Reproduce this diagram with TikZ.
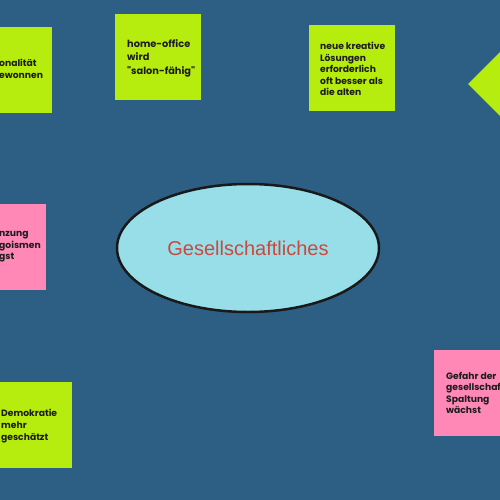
\documentclass[tikz,border=0pt]{standalone}
\usepackage{fontspec}
\setmainfont{Liberation Sans}
\newfontfamily\notefont{Poppins}
\usetikzlibrary{shapes.geometric}

\definecolor{boardblue}{RGB}{45,94,132}
\definecolor{notegreen}{RGB}{182,236,14}
\definecolor{notepink}{RGB}{255,136,182}
\definecolor{ellcyan}{RGB}{151,222,232}
\definecolor{titlered}{RGB}{204,72,60}
\definecolor{inkdark}{RGB}{28,28,28}

\begin{document}
\begin{tikzpicture}[
  x=1pt, y=-1pt,
  note/.style={rectangle, minimum width=86pt, minimum height=86pt, inner sep=0pt},
  txt/.style={align=left, text=inkdark, inner sep=0pt, font=\notefont\bfseries\fontsize{9.2}{11.6}\selectfont}
]
  \useasboundingbox (0,0) rectangle (500,500);
  \clip (0,0) rectangle (500,500);
  \fill[boardblue] (0,0) rectangle (500,500);

  % green notes
  \node[note, fill=notegreen, anchor=north east] (regio) at (52,27) {};
  \node[txt, anchor=west] (regiotxt) at (-1,69) {onalität\\ewonnen};
  \node[note, fill=notegreen, anchor=north west] (home) at (115,14) {};
  \node[txt, anchor=west, font=\notefont\bfseries\fontsize{9.8}{13.5}\selectfont] (hometxt) at (127,58)
      {home-office\\wird\\"salon-fähig"};
  \node[note, fill=notegreen, anchor=north west] (neu) at (309,25) {};
  \node[txt, anchor=west] (neutxt) at (320,69)
      {neue kreative\\Lösungen\\erforderlich\\oft besser als\\die alten};
  \node[note, fill=notegreen, anchor=north east] (demo) at (72,382) {};
  \node[txt, anchor=west] (demotxt) at (1,426) {Demokratie\\mehr\\geschätzt};

  % pink notes
  \node[note, fill=notepink, anchor=north east] (angst) at (46,204) {};
  \node[txt, anchor=west] (angsttxt) at (-1,247) {nzung\\goismen\\gst};
  \node[note, fill=notepink, anchor=north west] (spalt) at (434,350) {};
  \node[txt, anchor=west] (spalttxt) at (446,393)
      {Gefahr der\\gesellschaf\\Spaltung\\wächst};

  % arrow head at the right
  \fill[notegreen] (468,84) -- (500,52) -- (532,84) -- (500,116) -- cycle;

  % centre
  \node[ellipse, draw=black!90, line width=2.5pt, fill=ellcyan,
        minimum width=262pt, minimum height=128pt,
        font=\fontsize{20}{23}\selectfont, text=titlered] (gesell) at (248,248)
      {Gesellschaftliches};
\end{tikzpicture}
\end{document}
